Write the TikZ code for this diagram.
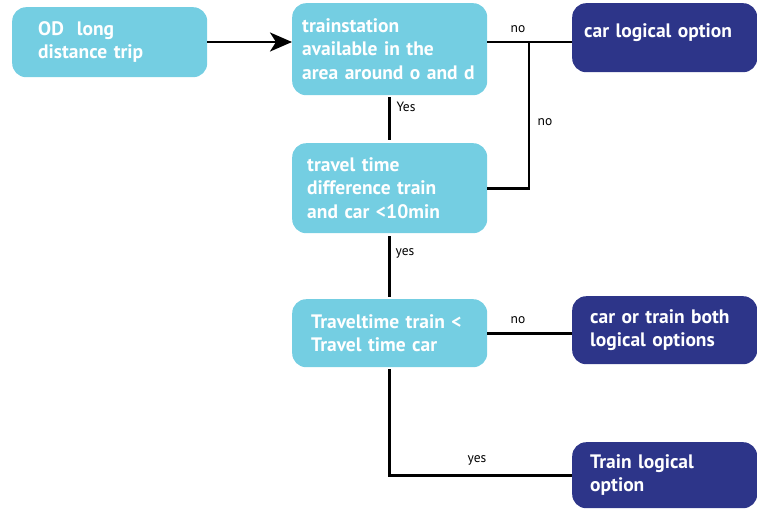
\documentclass[tikz,border=0pt]{standalone}
\usepackage{fontspec}
\setmainfont{PT Sans}
\usepackage{tikz}
\usetikzlibrary{arrows.meta}
\usepackage{xcolor}
\definecolor{askblue}{HTML}{74CEE2}
\definecolor{endblue}{HTML}{2D3589}

\begin{document}
\begin{tikzpicture}[x=1pt,y=-1pt,
  box/.style={rounded corners=14pt, anchor=north west, align=left, inner ysep=0pt, text=white, font=\bfseries\fontsize{19.5}{23.5}\selectfont},
  ask/.style={box, fill=askblue},
  answer/.style={box, fill=endblue},
  lbl/.style={font=\fontsize{13.5}{15}\selectfont, inner sep=0pt},
  link/.style={line width=2.6pt}]
\useasboundingbox (0,0) rectangle (757,509);

\node [ask, minimum height=70pt, inner xsep=26pt, text width=143pt] (trip) at (12,7) {OD~ long\\distance trip};
\node [ask, minimum height=92pt, inner xsep=10pt, text width=175pt] (station) at (292,3) {trainstation\\available in the\\area around o and d};
\node [ask, minimum height=90pt, inner xsep=15pt, text width=165pt] (gap) at (292,143) {travel time\\difference train\\and car <10min};
\node [ask, minimum height=68pt, inner xsep=19pt, text width=157pt] (faster) at (292,299) {Traveltime train <\\Travel time car};

\node [answer, minimum height=69pt, inner xsep=12pt, text width=161pt] (car) at (572,3) {car logical option\\[-10pt]\mbox{}};
\node [answer, minimum height=68pt, inner xsep=18pt, text width=149pt] (both) at (572,296) {car or train both\\logical options};
\node [answer, minimum height=66pt, inner xsep=18pt, text width=149pt] (train) at (572,442) {Train logical\\option};

\coordinate (split) at (529,42);
\draw [link, -{Stealth[length=22pt, width=19pt, inset=6pt]}] (trip.east |- split) -- (station.west |- split);
\draw [link] (split -| station.east) -- (split -| car.west);
\draw [link] (split) |- (gap.east);
\draw [link] ([yshift=-2pt]station.south) -- ([yshift=3pt]gap.north);
\draw [link] ([yshift=-3pt]gap.south) -- ([yshift=2pt]faster.north);
\draw [link] (faster.east) -- (faster.east -| both.west);
\draw [link] ([yshift=-2pt]faster.south) |- (train.west);

\node [lbl] (noA) at (518,29) {no};
\node [lbl] (noB) at (545,122) {no};
\node [lbl] (yesA) at (406,107) {Yes};
\node [lbl] (yesB) at (405,253) {yes};
\node [lbl] (noC) at (518,320) {no};
\node [lbl] (yesC) at (477,460) {yes};

\end{tikzpicture}
\end{document}
